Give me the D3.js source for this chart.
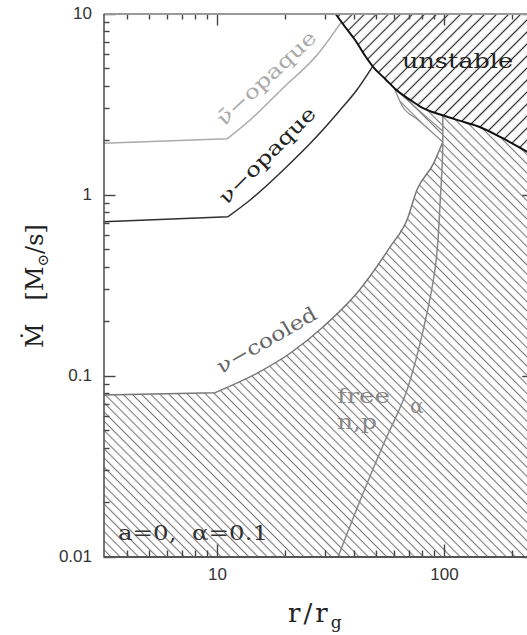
<!DOCTYPE html>
<html>
<head>
<meta charset="utf-8">
<script src="https://cdn.jsdelivr.net/npm/d3@7"></script>
<style>
  html, body { margin: 0; padding: 0; background: #fff; }
  svg { display: block; }
  .serif { font-family: "DejaVu Serif", "Liberation Serif", serif; }
  .tick text { font-family: "Liberation Sans", Arial, sans-serif; font-size: 17px; fill: #333; }
</style>
</head>
<body>
<svg id="chart" width="527" height="635"></svg>
<script>
// Axis ranges and tick values (r in gravitational radii, accretion rate in solar masses per second)
const rDomain = [Math.sqrt(10), 250];
const mdotDomain = [0.01, 10];
const rMajorTicks = [10, 100];
const rMinorTicks = [4, 5, 6, 7, 8, 9, 20, 30, 40, 50, 60, 70, 80, 90, 200];
const mdotMajorTicks = [0.01, 0.1, 1, 10];
const mdotMinorTicks = [0.02, 0.03, 0.04, 0.05, 0.06, 0.07, 0.08, 0.09,
                        0.2, 0.3, 0.4, 0.5, 0.6, 0.7, 0.8, 0.9,
                        2, 3, 4, 5, 6, 7, 8, 9];

// Boundary curves as [r, Mdot] pairs
const nuBarOpaque = [[3.162, 1.92], [11.08, 2.03], [13.99, 2.58], [19.56, 3.88], [27.6, 5.90], [35.3, 8.97]];
const nuOpaque = [[3.162, 0.708], [11.19, 0.754], [14.0, 0.932], [19.6, 1.366], [27.5, 2.09],
                  [34.9, 2.93], [41.3, 3.78], [48.3, 5.06]];
const nuCooled = [[3.162, 0.078], [9.81, 0.0804], [14.98, 0.1028], [21.0, 0.1327], [29.4, 0.186],
                  [41.3, 0.2845], [58.0, 0.515], [68.7, 0.723], [76.0, 1.059], [90.0, 1.487], [98.8, 1.95]];
const unstableEdge = [[33.2, 10], [36.7, 8.42], [40.6, 7.14], [45.0, 5.82], [48.8, 5.06], [55.1, 4.35],
                      [61.0, 3.83], [71.0, 3.33], [78.6, 3.06], [99.3, 2.73], [118, 2.55], [140, 2.39],
                      [177, 2.08], [233, 1.72], [266, 1.57]];
const lensInner = [[60.5, 3.85], [65.5, 3.08], [77.0, 2.58], [98.8, 1.95]];
const lensOuter = [[60.5, 3.85], [74.7, 3.04], [98.8, 2.24]];
const alphaLine = [[98.8, 2.73], [98.8, 1.93], [96.3, 0.932], [91.5, 0.3926], [81.0, 0.1784],
                   [67.5, 0.078], [53.5, 0.0403], [42.8, 0.0205], [34.2, 0.01]];

const svg = d3.select("#chart");
const plot = { left: 103.5, right: 534.3, top: 13.5, bottom: 556.5 };

const x = d3.scaleLog().domain(rDomain).range([plot.left, plot.right]);
const y = d3.scaleLog().domain(mdotDomain).range([plot.bottom, plot.top]);

const defs = svg.append("defs");
defs.append("clipPath").attr("id", "plotClip")
  .append("rect")
  .attr("x", plot.left).attr("y", plot.top)
  .attr("width", plot.right - plot.left).attr("height", plot.bottom - plot.top);

function hatch(id, gap, angle, color, width) {
  const p = defs.append("pattern")
    .attr("id", id)
    .attr("patternUnits", "userSpaceOnUse")
    .attr("width", gap).attr("height", gap)
    .attr("patternTransform", `rotate(${angle})`);
  p.append("line")
    .attr("x1", gap / 2).attr("y1", -1).attr("x2", gap / 2).attr("y2", gap + 1)
    .attr("stroke", color).attr("stroke-width", width);
}
hatch("hatchCooled", 6.5, -45, "#7a7a7a", 1.1);
hatch("hatchUnstable", 8.5, 45, "#2a2a2a", 1.2);

const lineLinear = d3.line().x(d => x(d[0])).y(d => y(d[1]));
const lineSmooth = d3.line().x(d => x(d[0])).y(d => y(d[1])).curve(d3.curveMonotoneX);
const lineSmoothY = d3.line().x(d => x(d[0])).y(d => y(d[1])).curve(d3.curveMonotoneY);

const regions = svg.append("g").attr("clip-path", "url(#plotClip)");

// Neutrino-cooled region: below the cooling curve, bounded above by the unstable edge
const unstableFromLens = unstableEdge.filter(d => d[0] > lensInner[0][0]);
const cooledRegion = [[rDomain[0], mdotDomain[0]], ...nuCooled, ...lensInner.slice().reverse(),
                      ...unstableFromLens, [unstableEdge[unstableEdge.length - 1][0], mdotDomain[0]]];
regions.append("path")
  .attr("d", lineLinear(cooledRegion) + "Z")
  .attr("fill", "url(#hatchCooled)");

// Unstable region above the stability edge
const last = unstableEdge[unstableEdge.length - 1];
const unstableRegion = [...unstableEdge, [last[0], mdotDomain[1] * 2], [unstableEdge[0][0], mdotDomain[1] * 2]];
regions.append("path")
  .attr("d", lineLinear(unstableRegion) + "Z")
  .attr("fill", "url(#hatchUnstable)");

// Curves with a sharp kink at the second point, smooth afterwards
function kinked(data) {
  return lineLinear(data.slice(0, 2)) + lineSmooth(data.slice(1)).replace(/^M[^A-Za-z]*/, "");
}

const curves = svg.append("g").attr("clip-path", "url(#plotClip)").attr("fill", "none");
curves.append("path").attr("d", kinked(nuBarOpaque)).attr("stroke", "#aaaaaa").attr("stroke-width", 1.5);
curves.append("path").attr("d", kinked(nuOpaque)).attr("stroke", "#303030").attr("stroke-width", 1.5);
curves.append("path").attr("d", kinked(nuCooled)).attr("stroke", "#777").attr("stroke-width", 1.5);
curves.append("path").attr("d", lineSmooth(lensInner)).attr("stroke", "#888").attr("stroke-width", 1.2);
curves.append("path").attr("d", lineSmooth(lensOuter)).attr("stroke", "#888").attr("stroke-width", 1.2);
curves.append("path").attr("d", lineSmoothY(alphaLine)).attr("stroke", "#888").attr("stroke-width", 1.5);
curves.append("path").attr("d", lineSmooth(unstableEdge)).attr("stroke", "#111").attr("stroke-width", 2);

// Tick marks on all four sides, pointing into the plot
const tickG = svg.append("g").attr("stroke", "#444").attr("stroke-width", 1.4);
function xTicks(values, len) {
  values.forEach(v => {
    const xp = Math.round(x(v)) + 0.5;
    tickG.append("line").attr("x1", xp).attr("x2", xp)
      .attr("y1", plot.bottom).attr("y2", plot.bottom - len);
    tickG.append("line").attr("x1", xp).attr("x2", xp)
      .attr("y1", plot.top).attr("y2", plot.top + len);
  });
}
function yTicks(values, len) {
  values.forEach(v => {
    const yp = Math.round(y(v)) + 0.5;
    tickG.append("line").attr("y1", yp).attr("y2", yp)
      .attr("x1", plot.left).attr("x2", plot.left + len);
    tickG.append("line").attr("y1", yp).attr("y2", yp)
      .attr("x1", plot.right).attr("x2", plot.right - len);
  });
}
xTicks(rMinorTicks, 6);
xTicks(rMajorTicks, 12);
yTicks(mdotMinorTicks, 6);
yTicks(mdotMajorTicks, 12);

// Axis lines and tick labels
function addAxis(gen, transform, labels, domainStyle) {
  const axis = gen.tickSize(0).tickPadding(11.5)
    .tickFormat(labels ? (d => String(d)) : () => "");
  const g = svg.append("g").attr("transform", transform).call(axis);
  g.selectAll(".tick line").remove();
  g.select(".domain").attr("stroke", domainStyle[0]).attr("stroke-width", domainStyle[1]);
  g.selectAll(".tick text").attr("font-family", null).attr("font-size", null);
  return g;
}
addAxis(d3.axisBottom(x).tickValues(rMajorTicks), `translate(0,${plot.bottom})`, true, ["#555", 2]);
addAxis(d3.axisTop(x).tickValues(rMajorTicks), `translate(0,${plot.top})`, false, ["#999", 2]);
addAxis(d3.axisLeft(y).tickValues(mdotMajorTicks), `translate(${plot.left},0)`, true, ["#555", 1.6]);
addAxis(d3.axisRight(y).tickValues(mdotMajorTicks), `translate(${plot.right},0)`, false, ["#555", 1.6]);

// Region and curve labels
const labels = svg.append("g").attr("class", "serif").attr("font-size", 20);
labels.append("text").attr("x", 402).attr("y", 68).attr("fill", "#222")
  .attr("textLength", 111).attr("lengthAdjust", "spacingAndGlyphs").text("unstable");
labels.append("text").attr("transform", "translate(271,83) rotate(-43)")
  .attr("text-anchor", "middle").attr("fill", "#aaa")
  .attr("textLength", 128).attr("lengthAdjust", "spacingAndGlyphs").text("\u03BD\u0304\u2212opaque");
labels.append("text").attr("transform", "translate(272,160) rotate(-45)")
  .attr("text-anchor", "middle").attr("fill", "#222")
  .attr("textLength", 128).attr("lengthAdjust", "spacingAndGlyphs").text("\u03BD\u2212opaque");
labels.append("text").attr("transform", "translate(270,346) rotate(-30)")
  .attr("text-anchor", "middle").attr("fill", "#666")
  .attr("textLength", 112).attr("lengthAdjust", "spacingAndGlyphs").text("\u03BD\u2212cooled");
labels.append("text").attr("x", 337).attr("y", 403).attr("fill", "#888")
  .attr("textLength", 53).attr("lengthAdjust", "spacingAndGlyphs").text("free");
labels.append("text").attr("x", 337).attr("y", 429).attr("fill", "#888")
  .attr("textLength", 40).attr("lengthAdjust", "spacingAndGlyphs").text("n,p");
labels.append("text").attr("x", 410).attr("y", 413).attr("fill", "#888").text("\u03B1");
labels.append("text").attr("x", 118).attr("y", 540).attr("fill", "#333")
  .style("white-space", "pre")
  .attr("textLength", 150).attr("lengthAdjust", "spacingAndGlyphs").text("a=0,  \u03B1=0.1");

// Axis titles
const yTitle = svg.append("text").attr("class", "serif").attr("font-size", 24).attr("fill", "#222")
  .attr("transform", "translate(43,286) rotate(-90)").attr("text-anchor", "middle")
  .style("white-space", "pre");
yTitle.append("tspan").text("\u1E40   [M");
yTitle.append("tspan").attr("font-size", 15).attr("dy", 5).text("\u2299");
yTitle.append("tspan").attr("dy", -5).text("/s]");

const xTitle = svg.append("text").attr("class", "serif").attr("font-size", 26).attr("fill", "#222")
  .attr("x", 288).attr("y", 622);
xTitle.append("tspan").attr("letter-spacing", 3).text("r/r");
xTitle.append("tspan").attr("font-size", 17).attr("dy", 6).text("g");
</script>
</body>
</html>
